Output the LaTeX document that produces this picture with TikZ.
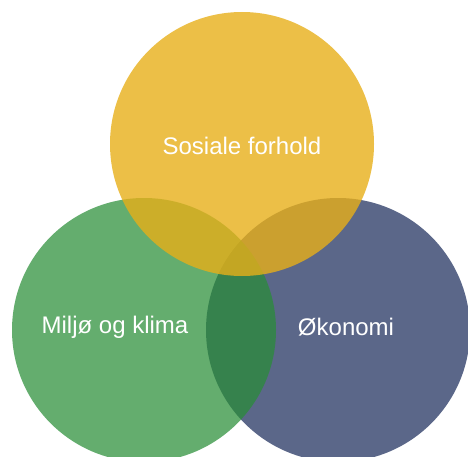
\documentclass[tikz,border=0pt]{standalone}
\usepackage{fontspec}
\setmainfont{Liberation Sans}
\usetikzlibrary{positioning}

\definecolor{okoblue}{HTML}{5B6789}
\definecolor{miljogreen}{HTML}{288D36}
\definecolor{sosialyellow}{HTML}{E7AF19}

\begin{document}
\begin{tikzpicture}[
            x=1pt, y=-1pt,
            ring/.style={circle, inner sep=0pt, minimum size=264pt},
            lbl/.style={text=white, font=\fontsize{24}{28}\selectfont, inner sep=0pt}
            ]
            \useasboundingbox (0,0) rectangle (468,457);
            % Circles
            \node[ring, fill=okoblue] (oko) at (338,330) {};
            \node[ring, fill=miljogreen, fill opacity=0.72] (miljo) at (144,330) {};
            \node[ring, fill=sosialyellow, fill opacity=0.8] (sosial) at (242,144) {};
            % Labels
            \node[lbl] (sosialtxt) at ([yshift=-2pt]sosial.center) {Sosiale forhold};
            \node[lbl] (miljotxt) at ([xshift=-29pt,yshift=3pt]miljo.center) {Miljø og klima};
            \node[lbl] (okotxt) at ([xshift=8pt,yshift=3pt]oko.center) {Økonomi};
          \end{tikzpicture}
\end{document}
